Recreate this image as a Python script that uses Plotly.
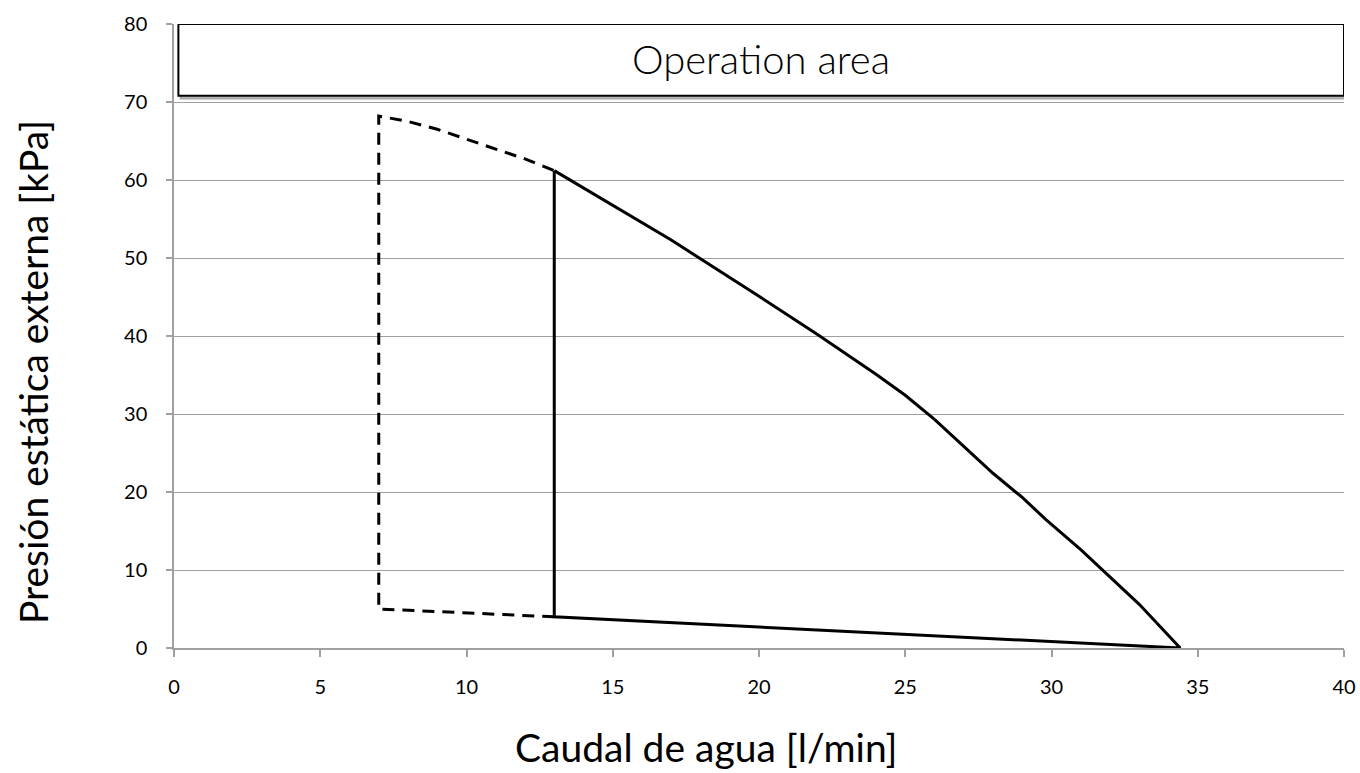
import plotly.graph_objects as go

# Dashed (extrapolated) boundary
dash_x = [13, 7, 7, 8, 9, 10, 11, 12, 13]
dash_y = [4.0, 5.0, 68.2, 67.5, 66.5, 65.2, 64.0, 62.7, 61.2]

# Solid operation boundary: upper curve, then straight bottom edge back to start
curve_x = [13, 15, 17, 20, 22, 24, 25, 26, 27, 28, 29, 29.8, 31, 32, 33, 34.4]
curve_y = [61.2, 56.8, 52.3, 45.1, 40.2, 35.1, 32.4, 29.3, 25.9, 22.4, 19.3, 16.5, 12.6, 9.1, 5.6, 0.0]
bottom_x = [34.4, 13, 13]
bottom_y = [0.0, 4.0, 61.2]

x_ticks = [0, 5, 10, 15, 20, 25, 30, 35, 40]
y_ticks = [0, 10, 20, 30, 40, 50, 60, 70, 80]

label_text = "Operation area"
x_title = "Caudal de agua [l/min]"
y_title = "Presión estática externa [kPa]"
box_x = [0.15, 40]
box_y = [70.8, 80]

W, H = 1360, 773
L, R, T, B = 174, 16, 24, 125
PW, PH = W - L - R, H - T - B


def px_to_paper(px, py):
    return (px - L) / PW, (H - B - py) / PH


font_family = "Lato, 'Open Sans', sans-serif"

fig = go.Figure()
fig.add_trace(go.Scatter(x=dash_x, y=dash_y, mode="lines",
                         line=dict(color="black", width=3, dash="12px,8px"),
                         showlegend=False, hoverinfo="skip"))
fig.add_trace(go.Scatter(x=curve_x + bottom_x[1:], y=curve_y + bottom_y[1:], mode="lines",
                         line=dict(color="black", width=3, shape="linear"),
                         showlegend=False, hoverinfo="skip"))

# shadow and box
fig.add_shape(type="rect", xref="x", yref="y",
              x0=box_x[0] + 0.08, x1=box_x[1] + 0.08, y0=box_y[0] - 0.35, y1=box_y[1] - 0.35,
              line=dict(color="#a8a8a8", width=2), fillcolor="#c8c8c8", layer="above")
fig.add_shape(type="rect", xref="x", yref="y",
              x0=box_x[0], x1=box_x[1], y0=box_y[0], y1=box_y[1],
              line=dict(color="black", width=2), fillcolor="white", layer="above")
fig.add_annotation(x=(box_x[0] + box_x[1]) / 2, y=(box_y[0] + box_y[1]) / 2,
                   xref="x", yref="y", text=label_text, showarrow=False, yshift=1,
                   font=dict(size=40, color="black", family="Lato Light, Lato, sans-serif", weight=300))

xt_x, xt_y = px_to_paper(706, 747)
fig.add_annotation(x=xt_x, y=xt_y, xref="paper", yref="paper",
                   text=x_title, showarrow=False, xanchor="center", yanchor="middle",
                   font=dict(size=39, color="black", family=font_family))
yt_x, yt_y = px_to_paper(33, 372)
fig.add_annotation(x=yt_x, y=yt_y, xref="paper", yref="paper",
                   text=y_title, showarrow=False, textangle=-90, xanchor="center", yanchor="middle",
                   font=dict(size=39, color="black", family=font_family))

fig.update_layout(
    width=W, height=H,
    margin=dict(l=L, r=R, t=T, b=B, autoexpand=False),
    plot_bgcolor="white", paper_bgcolor="white",
    font=dict(family=font_family, color="black"),
    xaxis=dict(range=[0, 40], tickvals=x_ticks, showgrid=False, zeroline=False, automargin=False,
               showline=True, linecolor="#a0a0a0", linewidth=1.5,
               ticks="outside", ticklen=7, tickcolor="#a0a0a0", tickwidth=1.5,
               ticklabelstandoff=13,
               tickfont=dict(size=20, family=font_family)),
    yaxis=dict(range=[0, 80], tickvals=y_ticks, showgrid=True, gridcolor="#a0a0a0", gridwidth=1.2,
               zeroline=False, showline=True, linecolor="#a0a0a0", linewidth=1.5, automargin=False,
               ticks="outside", ticklen=6, tickcolor="#a0a0a0", tickwidth=1.5,
               ticklabelstandoff=15,
               tickfont=dict(size=20, family=font_family)),
)

fig.write_html("out.html", config={"displayModeBar": False},
               post_script="document.body.style.margin='0';document.body.style.overflow='hidden';")
